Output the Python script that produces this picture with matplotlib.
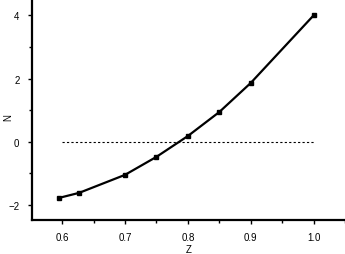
import matplotlib
matplotlib.use("Agg")
import matplotlib.pyplot as plt
from matplotlib.ticker import MultipleLocator

z = [0.595, 0.627, 0.70, 0.75, 0.80, 0.85, 0.90, 1.00]
n_vals = [-1.78, -1.62, -1.05, -0.48, 0.18, 0.94, 1.86, 4.00]
zero_x = [0.6, 1.0]
zero_y = [0.0, 0.0]

plt.rcParams.update({
    "font.family": ["Liberation Sans", "DejaVu Sans"],
    "font.size": 7,
})

fig = plt.figure(figsize=(3.45, 2.55), dpi=100)
ax = fig.add_axes([32 / 345, 34 / 255, 1 - 32 / 345, 1 - 34 / 255])

ax.plot(zero_x, zero_y, color="black", linestyle=(0, (2, 2)), linewidth=0.8)
ax.plot(z, n_vals, color="black", linewidth=1.6, marker="s", markersize=3.5)

ax.set_xlim(0.552, 1.05)
ax.set_ylim(-2.48, 4.52)
ax.xaxis.set_major_locator(MultipleLocator(0.1))
ax.xaxis.set_minor_locator(MultipleLocator(0.05))
ax.yaxis.set_major_locator(MultipleLocator(2))
ax.yaxis.set_minor_locator(MultipleLocator(1))
ax.xaxis.set_major_formatter(lambda v, p: f"{v:.1f}")

for side in ("top", "right"):
    ax.spines[side].set_visible(False)
for side in ("left", "bottom"):
    ax.spines[side].set_linewidth(1.6)

ax.tick_params(which="major", direction="out", length=3, width=1, pad=6)
ax.tick_params(which="minor", direction="out", length=2, width=1)

ax.set_xlabel("Z", labelpad=1)
ax.set_ylabel("N", va="center")
ax.yaxis.set_label_coords(-0.075, 0.47)

fig.savefig("out.png", dpi=100)
